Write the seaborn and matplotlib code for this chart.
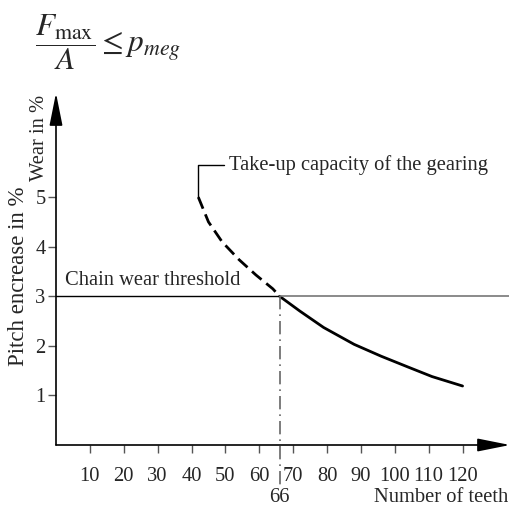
import matplotlib
matplotlib.use("Agg")
import matplotlib.pyplot as plt
import matplotlib.transforms as mtransforms
import seaborn as sns

# values
teeth_dashed = [42, 45, 49, 54, 59, 64, 66]
wear_dashed = [5.0, 4.5, 4.1, 3.74, 3.43, 3.15, 3.0]
teeth_solid = [66, 72, 79, 88, 96, 104, 111, 120]
wear_solid = [3.0, 2.7, 2.37, 2.03, 1.79, 1.57, 1.38, 1.19]
x_ticks = [10, 20, 30, 40, 50, 60, 70, 80, 90, 100, 110, 120]
y_ticks = [1, 2, 3, 4, 5]
threshold = 3
teeth_at_threshold = 66

sns.set_style("white")
plt.rcParams["font.family"] = ["Liberation Serif", "DejaVu Serif"]
plt.rcParams["mathtext.fontset"] = "stix"

fig = plt.figure(figsize=(5.1, 5.08), dpi=100)
ax = fig.add_axes([56 / 510, 63 / 508, 454 / 510, 352 / 508])
ax.set_xlim(0, 134)
ax.set_ylim(0, 7.1)
for s in ax.spines.values():
    s.set_visible(False)

axis_col = "#555555"
fs = 14.8
# axis arrows
arrow = dict(arrowstyle="-|>,head_length=1.0,head_width=0.2", color="black",
             lw=1.2, mutation_scale=20, shrinkA=0, shrinkB=0)
ax.annotate("", xy=(1, 0), xytext=(0, 0), xycoords="axes fraction",
            arrowprops=arrow)
ax.annotate("", xy=(0, 1), xytext=(0, 0), xycoords="axes fraction",
            arrowprops=arrow)

# curve: dashed part then solid part
sns.lineplot(x=teeth_dashed, y=wear_dashed, ax=ax, color="black", lw=2.0,
             linestyle=(0, (4.5, 2.2)))
sns.lineplot(x=teeth_solid, y=wear_solid, ax=ax, color="black", lw=2.0)

# threshold line
ax.plot([0, teeth_at_threshold], [threshold, threshold], color="black", lw=1.0)
ax.plot([teeth_at_threshold, ax.get_xlim()[1]], [threshold, threshold],
        color="#777777", lw=1.2)
ax.text(2.7, threshold + 0.12, "Chain wear threshold", fontsize=fs,
        ha="left", va="bottom")

# vertical dash-dot at 66 teeth
ax.plot([teeth_at_threshold, teeth_at_threshold], [threshold, -0.88],
        color="#666666", lw=1.2, linestyle=(0, (8, 3, 1, 3)), clip_on=False)

ax.annotate("Take-up capacity of the gearing",
            xy=(teeth_dashed[0], wear_dashed[0]), xytext=(51, 5.64),
            fontsize=fs, ha="left", va="center",
            arrowprops=dict(arrowstyle="-", color="black", lw=1.0,
                            connectionstyle="angle,angleA=0,angleB=90,rad=0",
                            shrinkA=1, shrinkB=0))

ax.set_xticks(x_ticks)
ax.set_yticks(y_ticks)
ax.tick_params(axis="both", direction="out", length=6, width=1.0,
               color=axis_col, labelsize=fs, left=True, bottom=True)
ax.tick_params(axis="x", pad=10)
ax.tick_params(axis="y", pad=1.5)

trans = mtransforms.blended_transform_factory(ax.transData, fig.transFigure)
ax.text(teeth_at_threshold, 1 - 497 / 508, "66", transform=trans,
        fontsize=fs, ha="center", va="center")
fig.text(508 / 510, 1 - 497 / 508, "Number of teeth", fontsize=fs,
         ha="right", va="center")
fig.text(19 / 510, 1 - 276 / 508, "Pitch encrease in %", fontsize=16.5,
         rotation=90, ha="center", va="center")
fig.text(40 / 510, 1 - 138 / 508, "Wear in %", fontsize=fs,
         rotation=90, ha="center", va="center")

fig.text(35 / 510, 1 - 42 / 508, r"$\dfrac{F_{\max}}{A} \leq p_{meg}$",
         fontsize=22.5, ha="left", va="center")

fig.savefig("out.png", dpi=100)
